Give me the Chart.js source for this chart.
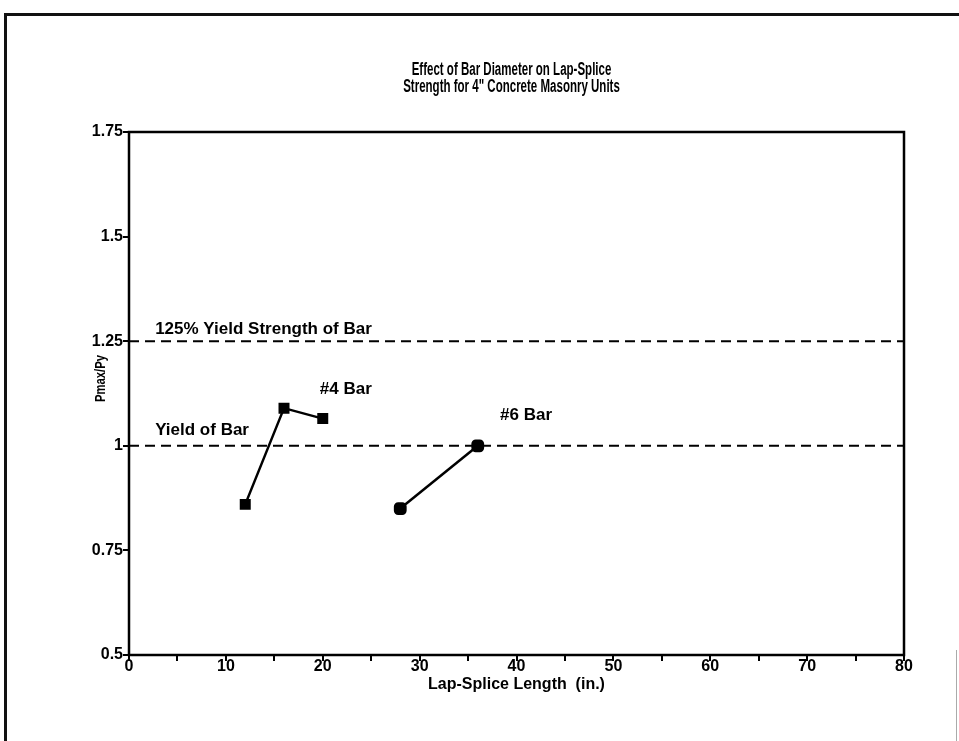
<!DOCTYPE html>
<html>
<head>
<meta charset="utf-8">
<script src="https://cdn.jsdelivr.net/npm/chart.js@4/dist/chart.umd.min.js"></script>
<style>
  html, body { margin: 0; padding: 0; background: #fff; }
  #wrap { position: relative; width: 959px; height: 741px; overflow: hidden; }
  canvas { position: absolute; left: 0; top: 0; }
  .frame-top { position: absolute; left: 4px; top: 13px; width: 955px; height: 3px; background: #111; }
  .frame-left { position: absolute; left: 4px; top: 13px; width: 3px; height: 728px; background: #111; }
  .frame-right { position: absolute; left: 956px; top: 650px; width: 1px; height: 91px; background: #aaa; }
</style>
</head>
<body>
<div id="wrap">
  <canvas id="c" width="959" height="741"></canvas>
  <div class="frame-top"></div>
  <div class="frame-left"></div>
  <div class="frame-right"></div>
</div>
<script>
// Lap-splice lengths (in.) and normalised peak loads Pmax/Py
const bar4Length = [12, 16, 20];
const bar4Ratio  = [0.86, 1.09, 1.065];
const bar6Length = [28, 36];
const bar6Ratio  = [0.85, 1.0];

// Reference levels drawn as dashed lines across the plot
const refLevels = [1.25, 1.0];
const refSpan = [0, 80];

// Axis limits
const xRange = [0, 80];
const yRange = [0.5, 1.75];
const yStep = 0.25;

// Chart heading (two lines, condensed face) and vertical axis caption
const titleLines = ['Effect of Bar Diameter on Lap-Splice', 'Strength for 4" Concrete Masonry Units'];
const yCaption = 'Pmax/Py';

// Text placed in the plot, anchored at data coordinates
const noteText = ['125% Yield Strength of Bar', 'Yield of Bar', '#4 Bar', '#6 Bar'];
const noteX    = [2.7, 2.7, 19.7, 38.3];
const noteY    = [1.279, 1.036, 1.134, 1.072];

const FONT = "'Liberation Sans', Arial, sans-serif";

const toPoints = (xs, ys) => xs.map((x, i) => ({ x: x, y: ys[i] }));

const plotBox = {
  id: 'plotBox',
  afterDatasetsDraw(chart) {
    const { ctx, chartArea: a } = chart;
    ctx.save();
    ctx.strokeStyle = '#000';
    ctx.lineWidth = 2.5;
    ctx.strokeRect(a.left, a.top, a.right - a.left, a.bottom - a.top);
    ctx.restore();
  }
};

// Condensed two-line heading above the plot area, plus the rotated y caption
const heading = {
  id: 'heading',
  afterDraw(chart) {
    const { ctx, chartArea: a } = chart;
    const cx = (a.left + a.right) / 2 - 5;
    ctx.save();
    ctx.fillStyle = '#000';
    ctx.textAlign = 'center';
    ctx.textBaseline = 'middle';
    ctx.font = 'bold 18px ' + FONT;
    titleLines.forEach((t, i) => {
      ctx.save();
      ctx.translate(cx, a.top - 62 + i * 17);
      ctx.scale(0.64, 1.05);
      ctx.fillText(t, 0, 0);
      ctx.restore();
    });
    ctx.save();
    ctx.font = 'bold 15px ' + FONT;
    ctx.translate(a.left - 28, (a.top + a.bottom) / 2 - 15);
    ctx.rotate(-Math.PI / 2);
    ctx.scale(0.75, 1);
    ctx.fillText(yCaption, 0, 0);
    ctx.restore();
    ctx.restore();
  }
};

const notes = {
  id: 'notes',
  afterDatasetsDraw(chart) {
    const { ctx, scales } = chart;
    ctx.save();
    ctx.fillStyle = '#000';
    ctx.font = 'bold 17px ' + FONT;
    ctx.textBaseline = 'middle';
    ctx.textAlign = 'left';
    noteText.forEach((t, i) => {
      ctx.fillText(t, scales.x.getPixelForValue(noteX[i]), scales.y.getPixelForValue(noteY[i]));
    });
    ctx.restore();
  }
};

const dashedRefs = refLevels.map(v => ({
  data: toPoints(refSpan, [v, v]),
  borderColor: '#000',
  borderWidth: 2,
  borderDash: [10, 6],
  pointRadius: 0,
  fill: false
}));

new Chart(document.getElementById('c'), {
  type: 'line',
  data: {
    datasets: [
      ...dashedRefs,
      {
        label: '#4 Bar',
        data: toPoints(bar4Length, bar4Ratio),
        borderColor: '#000',
        backgroundColor: '#000',
        borderWidth: 2.5,
        pointStyle: 'rect',
        pointRadius: 6,
        fill: false
      },
      {
        label: '#6 Bar',
        data: toPoints(bar6Length, bar6Ratio),
        borderColor: '#000',
        backgroundColor: '#000',
        borderWidth: 2.5,
        pointStyle: 'rectRounded',
        pointRadius: 6,
        fill: false
      }
    ]
  },
  options: {
    responsive: false,
    animation: false,
    layout: { padding: { left: 80, right: 55, top: 132, bottom: 40 } },
    plugins: {
      legend: { display: false },
      tooltip: { enabled: false },
      title: { display: false }
    },
    scales: {
      x: {
        type: 'linear',
        min: xRange[0],
        max: xRange[1],
        afterFit(s) { s.height = 46; },
        ticks: {
          stepSize: 5,
          color: '#000',
          padding: -4,
          maxRotation: 0,
          autoSkip: false,
          font: { family: FONT, size: 16, weight: 'bold' },
          callback: v => (v % 10 === 0 ? String(v) : '')
        },
        grid: { drawOnChartArea: false, drawTicks: true, tickLength: 6, color: '#000', lineWidth: 2 },
        border: { display: false },
        title: {
          display: true,
          text: 'Lap-Splice Length  (in.)',
          color: '#000',
          font: { family: FONT, size: 16, weight: 'bold' },
          padding: { top: 0, bottom: 7 }
        }
      },
      y: {
        type: 'linear',
        min: yRange[0],
        max: yRange[1],
        afterFit(s) { s.width = 49; },
        ticks: {
          stepSize: yStep,
          color: '#000',
          padding: 0,
          font: { family: FONT, size: 16, weight: 'bold' },
          callback: v => String(+v.toFixed(2))
        },
        grid: { drawOnChartArea: false, drawTicks: true, tickLength: 6, color: '#000', lineWidth: 2 },
        border: { display: false },
        title: { display: false }
      }
    }
  },
  plugins: [plotBox, notes, heading]
});
</script>
</body>
</html>
